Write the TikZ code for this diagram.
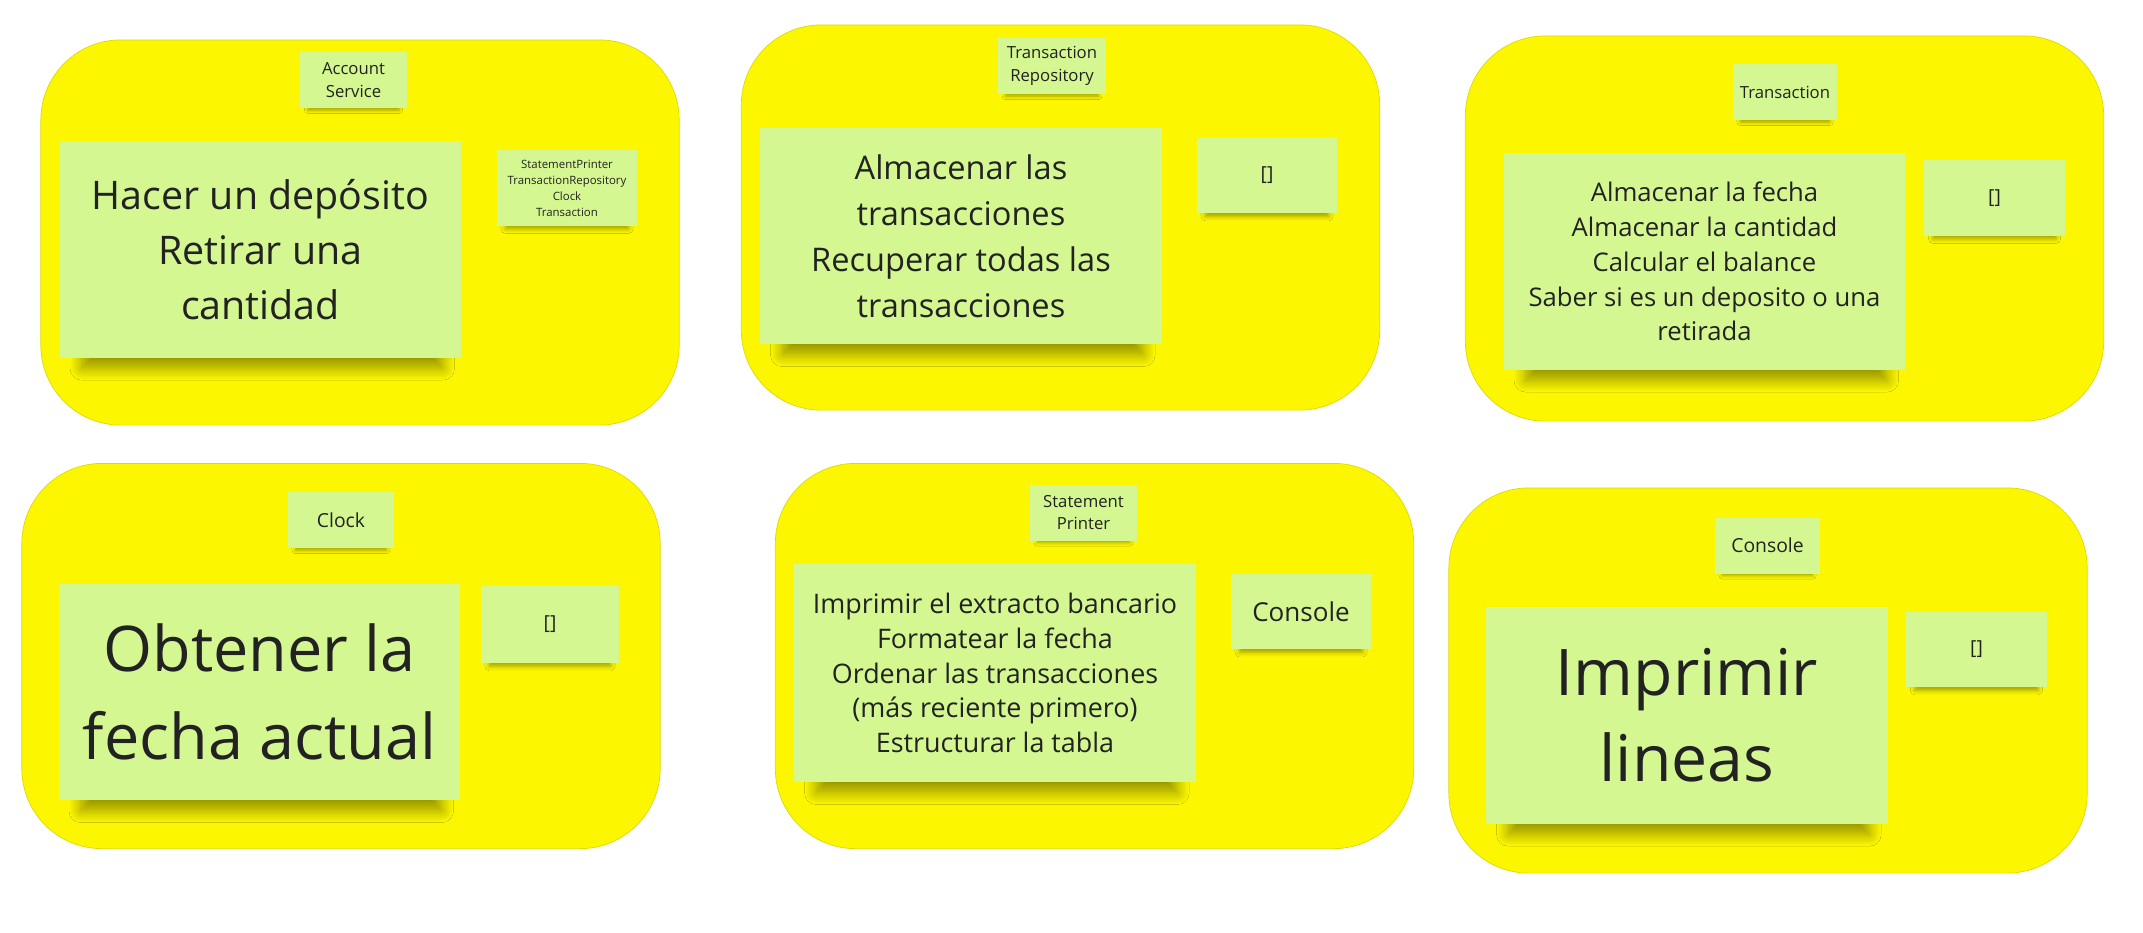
\documentclass[tikz,border=0pt]{standalone}
\usepackage{fontspec}
\setmainfont{Open Sans}
\usetikzlibrary{shadows.blur}
\definecolor{boardyellow}{HTML}{FCF700}
\definecolor{stickygreen}{HTML}{D5F792}
\definecolor{ink}{HTML}{222222}
\newcommand\fs[2]{\fontsize{#1pt}{#2pt}\selectfont}
\tikzset{
  panel/.style={fill=boardyellow, draw=boardyellow!88!black, line width=0.2pt,
    rounded corners=0.8cm, minimum width=6.38cm, minimum height=3.85cm},
  sticky/.style={fill=stickygreen, text=ink, align=center, inner sep=0pt},
  % big sticky with a soft shadow under its lower edge
  bignote/.style={sticky, minimum width=4.01cm, minimum height=2.16cm,
    blur shadow={shadow xshift=0.02cm, shadow yshift=-0.24cm, shadow scale=0.9,
      shadow opacity=40, shadow blur radius=0.13cm, shadow blur steps=14}},
  titlenote/.style={sticky, minimum width=1.06cm, minimum height=0.56cm,
    blur shadow={shadow xshift=0cm, shadow yshift=-0.07cm, shadow scale=0.86,
      shadow opacity=35, shadow blur radius=0.04cm}},
  sidenote/.style={sticky, minimum width=1.40cm, minimum height=0.75cm,
    blur shadow={shadow xshift=0cm, shadow yshift=-0.09cm, shadow scale=0.88,
      shadow opacity=35, shadow blur radius=0.05cm}},
}
\begin{document}
\begin{tikzpicture}[x=0.01cm, y=-0.01cm]
  \useasboundingbox (0,0) rectangle (2143,932);
  % ---- top row
  \node[panel] (acctpanel) at (360,232.5) {};
  \node[titlenote, font=\fs{4.75}{6.5}] (accttitle) at (353.5,80) {Account\\Service};
  \node[bignote, font=\fs{11.2}{15.6}] (acctmain) at (260.5,249.5) {Hacer un depósito\\Retirar una\\cantidad};
  \node[sidenote, font=\fs{3.25}{4.55}] (acctside) at (567,188) {StatementPrinter\\TransactionRepository\\Clock\\Transaction};

  \node[panel] (repopanel) at (1060.5,217.5) {};
  \node[titlenote, minimum width=1.08cm, font=\fs{4.75}{6.5}] (repotitle) at (1052,66) {Transaction\\Repository};
  \node[bignote, font=\fs{9.26}{13.1}] (repomain) at (961,236) {Almacenar las\\transacciones\\Recuperar todas las\\transacciones};
  \node[sidenote, font=\fs{5.5}{7}] (reposide) at (1267,175.5) {[]};

  \node[panel] (transpanel) at (1784.5,228.5) {};
  \node[titlenote, minimum width=1.04cm, font=\fs{4.75}{6.5}] (transtitle) at (1785,92) {Transaction};
  \node[bignote, font=\fs{7.3}{9.9}] (transmain) at (1704.5,261.5) {Almacenar la fecha\\Almacenar la cantidad\\Calcular el balance\\Saber si es un deposito o una\\retirada};
  \node[sidenote, font=\fs{5.5}{7}] (transside) at (1994.5,198) {[]};

  % ---- bottom row
  \node[panel] (clockpanel) at (341,656) {};
  \node[titlenote, font=\fs{5.5}{7}] (clocktitle) at (341,520) {Clock};
  \node[bignote, font=\fs{17.9}{24.9}] (clockmain) at (259.5,692) {Obtener la\\fecha actual};
  \node[sidenote, minimum width=1.38cm, minimum height=0.77cm, font=\fs{5.5}{7}] (clockside) at (550,624.5) {[]};

  \node[panel] (printpanel) at (1094.5,656) {};
  \node[titlenote, minimum width=1.07cm, font=\fs{4.75}{6.5}] (printtitle) at (1083.5,512.5) {Statement\\Printer};
  \node[bignote, minimum height=2.18cm, font=\fs{7.65}{9.9}] (printmain) at (995,673) {Imprimir el extracto bancario\\Formatear la fecha\\Ordenar las transacciones\\(más reciente primero)\\Estructurar la tabla};
  \node[sidenote, font=\fs{7.4}{9}] (printside) at (1301,611.5) {Console};

  \node[panel] (conspanel) at (1768,680.5) {};
  \node[titlenote, minimum width=1.05cm, font=\fs{5.5}{7}] (constitle) at (1767.5,545.5) {Console};
  \node[bignote, font=\fs{18.3}{24.5}] (consmain) at (1687,715.5) {Imprimir\\lineas};
  \node[sidenote, font=\fs{5.5}{7}] (consside) at (1976.5,649.5) {[]};
\end{tikzpicture}
\end{document}
